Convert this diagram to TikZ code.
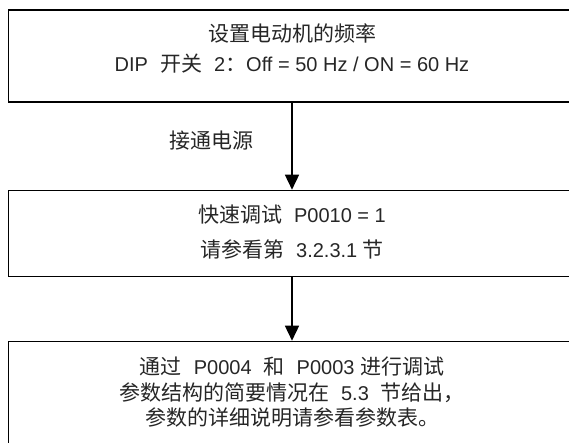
\documentclass[tikz,border=0pt]{standalone}
\usepackage{fontspec}
\setmainfont{Liberation Sans}
\newfontfamily\cjk[Scale=1.05]{Noto Sans CJK SC}
\usetikzlibrary{arrows.meta,positioning}
\newcommand{\zh}[1]{{\cjk #1}}
\newcommand{\gp}{\hspace{0.6em}}

\begin{document}
\begin{tikzpicture}[x=1pt,y=-1pt,line width=1.6pt,
  box/.style={draw,minimum width=567pt,inner sep=0pt},
  txt/.style={align=center,inner sep=0pt,text=black!85},
  arr/.style={-{Triangle[length=15pt,width=14pt]}}]
%%Location
\useasboundingbox (0,0) rectangle (569,443);
\clip (0,0) rectangle (569,443);
%%Boxes
\node[box,minimum height=92pt] (freq) at (292,56) {};
\node[box,minimum height=86pt] (quick) at (292,233.5) {};
\node[box,minimum height=200pt] (param) at (292,441.5) {};

%%Arrows
\draw[arr] (freq.south) -- (quick.north);
\draw[arr] (quick.south) -- (param.north);

%%Label
\node[txt,font=\fontsize{20}{30}\selectfont] (freqtxt) at (292,48)
  {\zh{设置电动机的频率}\\DIP\gp\zh{开关}\gp2\zh{：}Off = 50 Hz / ON = 60 Hz};
\node[txt,font=\fontsize{20}{24}\selectfont] (power) at (211.7,141) {\zh{接通电源}};
\node[txt,font=\fontsize{20}{35}\selectfont] (quicktxt) at (292,232.5)
  {\zh{快速调试}\gp P0010 = 1\\\zh{请参看第}\gp3.2.3.1 \zh{节}};
\node[txt,font=\fontsize{20}{25.5}\selectfont] (paramtxt) at (292,392.5)
  {\zh{通过}\gp P0004\gp\zh{和}\gp P0003 \zh{进行调试}\\
   \zh{参数结构的简要情况在}\gp5.3\gp\zh{节给出，}\\
   \zh{参数的详细说明请参看参数表。}};

\end{tikzpicture}
\end{document}
